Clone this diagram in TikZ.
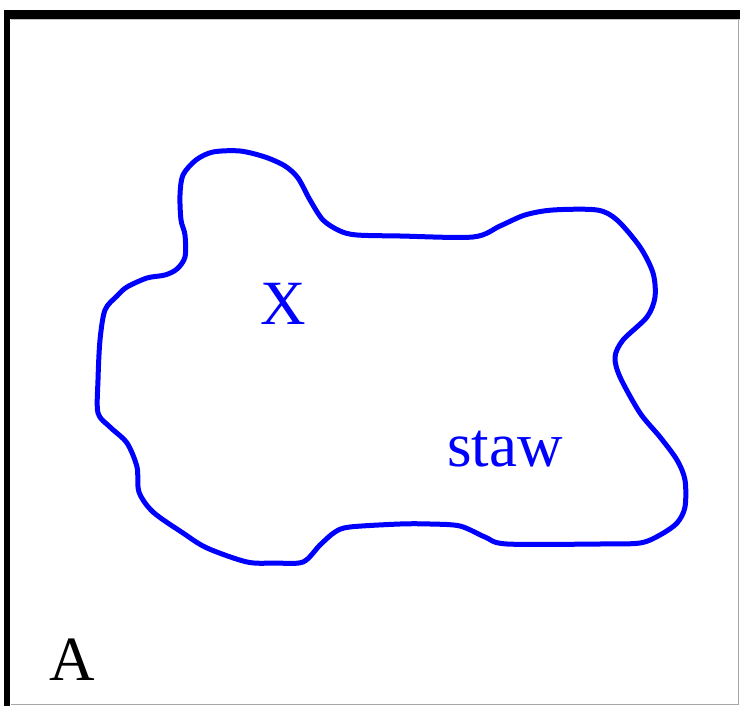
\documentclass[tikz,border=0pt]{standalone}
\usepackage{fontspec}
\setmainfont{Liberation Serif}
\begin{document}
\begin{tikzpicture}[x=1pt,y=-1pt,
  blob/.style={draw=blue,line width=5pt,line join=round},
  bluetext/.style={text=blue,font=\fontsize{63}{63}\selectfont,inner sep=0pt},
  blacktext/.style={text=black,font=\fontsize{63}{63}\selectfont,inner sep=0pt}]
\useasboundingbox (0,0) rectangle (740,706);
\fill[white] (0,0) rectangle (740,706);
% frame
\draw[line width=9pt] (4,14.5) -- (740,14.5);
\draw[line width=6.5pt] (7.2,10) -- (7.2,706);
\draw[gray!70,line width=1pt] (10.5,704.5) -- (738.5,704.5) -- (738.5,19);
\draw[gray!50,line width=0.8pt] (10.5,19.3) -- (740,19.3);
% blob
\draw[blob] plot[smooth cycle,tension=0.5] coordinates {
(180,195) (183,175) (196,160) (213,152) (240,151) (265,157) (285,166)
(298,178) (310,200) (323,220) (340,231) (357,235) (400,236) (473,237) (500,226)
(525,215) (553,210) (597,210) (617,220) (640,247) (653,273) (655,297)
(647,317) (623,340) (615,357) (620,377) (640,413) (660,437) (677,460)
(685,480) (685,507) (677,523) (660,535) (640,543) (600,544) (507,544)
(485,537) (460,526) (430,524) (400,524) (350,527) (335,532) (320,545)
(303,562) (275,563) (247,562) (207,548) (183,533) (153,512) (139,492)
(137,467) (127,443) (110,427) (98,413) (98,380) (100,340) (105,310)
(117,296) (127,287) (147,278) (165,275) (177,269) (185,257) (185,235)
(181,220) };
% labels
\node[bluetext] (x) at (283,304) {X};
\node[bluetext,anchor=base west] (staw) at (447,466) {staw};
\node[blacktext,anchor=base west] (a) at (49,680) {A};
\end{tikzpicture}
\end{document}
